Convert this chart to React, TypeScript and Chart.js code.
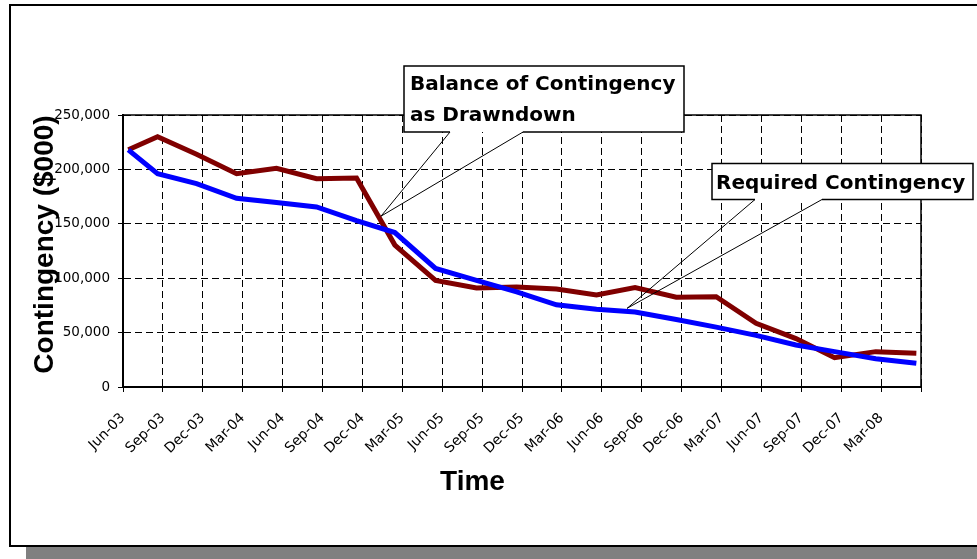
import React, { useEffect, useRef } from 'react';
import { Chart, registerables } from 'chart.js';

Chart.register(...registerables);

// Quarter tick labels along the time axis (one every 3 months from Jun-03)
const tickLabels = [
  'Jun-03', 'Sep-03', 'Dec-03', 'Mar-04', 'Jun-04', 'Sep-04', 'Dec-04',
  'Mar-05', 'Jun-05', 'Sep-05', 'Dec-05', 'Mar-06', 'Jun-06', 'Sep-06',
  'Dec-06', 'Mar-07', 'Jun-07', 'Sep-07', 'Dec-07', 'Mar-08',
];

// Observation times, in months after Jun-03
const monthOffsets = [
  0.4, 2.6, 5.53, 8.54, 11.54, 14.55, 17.56, 20.44, 23.5, 26.58, 29.6,
  32.59, 35.6, 38.5, 41.6, 44.6, 47.6, 50.6, 53.5, 56.6, 59.65,
];

// Required Contingency ($000) - blue
const requiredContingency = [
  218000, 196000, 187000, 173500, 169500, 165500, 153000, 142000, 109000,
  98000, 87500, 75500, 71500, 69000, 62000, 55000, 47500, 38600, 32500,
  26000, 21800,
];

// Balance of Contingency as Drawndown ($000) - dark red
const balanceContingency = [
  218000, 230000, 214000, 196000, 201000, 191500, 192000, 130500, 98000,
  91000, 91800, 90000, 84600, 91500, 82500, 83000, 58500, 44500, 27000,
  32500, 31000,
];

const yMax = 250000;
const yStep = 50000;
const monthsPerTick = 3;
const xMax = 60;

// Callout annotations: tip anchored in data space
const callouts = [
  {
    lines: ['Balance of Contingency', 'as Drawndown'],
    tipMonth: 19.4,
    tipValue: 157000,
    box: { x: 404, y: 66, w: 280, h: 66, baseL: 450, baseR: 523, tx: 410, ty: 90, lh: 31 },
  },
  {
    lines: ['Required Contingency'],
    tipMonth: 37.9,
    tipValue: 72300,
    box: { x: 712, y: 163.5, w: 261, h: 36, baseL: 755, baseR: 822, tx: 716, ty: 188.5, lh: 31 },
  },
];

const decorPlugin = {
  id: 'decor',
  beforeDraw(chart: any) {
    const { ctx, width } = chart;
    ctx.save();
    ctx.fillStyle = '#ffffff';
    ctx.fillRect(0, 0, chart.width, chart.height);
    ctx.fillStyle = '#808080';
    ctx.fillRect(26, 547, width - 26, 12);
    ctx.strokeStyle = '#000';
    ctx.lineWidth = 2;
    ctx.beginPath();
    ctx.moveTo(width + 5, 5);
    ctx.lineTo(10, 5);
    ctx.lineTo(10, 546);
    ctx.lineTo(width + 5, 546);
    ctx.stroke();
    ctx.restore();
  },
  afterDraw(chart: any) {
    const { ctx, chartArea: ca, scales } = chart;
    ctx.save();
    ctx.strokeStyle = '#000';
    ctx.lineWidth = 1.5;
    ctx.strokeRect(ca.left, ca.top, ca.right - ca.left, ca.bottom - ca.top);

    // axis titles
    ctx.fillStyle = '#000';
    ctx.font = 'bold 28px "Liberation Sans", Arial, sans-serif';
    ctx.textAlign = 'center';
    ctx.textBaseline = 'alphabetic';
    ctx.fillText('Time', 472.5, 490);
    ctx.save();
    ctx.translate(53, 244.5);
    ctx.rotate(-Math.PI / 2);
    ctx.fillText('Contingency ($000)', 0, 0);
    ctx.restore();

    // callouts
    for (const c of callouts) {
      const b = c.box;
      const tx = scales.x.getPixelForValue(c.tipMonth);
      const ty = scales.y.getPixelForValue(c.tipValue);
      const bottom = b.y + b.h;
      ctx.fillStyle = '#fff';
      ctx.fillRect(b.x, b.y, b.w, b.h);
      ctx.strokeStyle = '#000';
      ctx.lineWidth = 1.5;
      ctx.beginPath();
      ctx.moveTo(b.baseL, bottom);
      ctx.lineTo(b.x, bottom);
      ctx.lineTo(b.x, b.y);
      ctx.lineTo(b.x + b.w, b.y);
      ctx.lineTo(b.x + b.w, bottom);
      ctx.lineTo(b.baseR, bottom);
      ctx.stroke();
      ctx.lineWidth = 1;
      ctx.beginPath();
      ctx.moveTo(b.baseL, bottom);
      ctx.lineTo(tx, ty);
      ctx.lineTo(b.baseR, bottom);
      ctx.stroke();
      ctx.fillStyle = '#000';
      ctx.font = 'bold 20px "DejaVu Sans", sans-serif';
      ctx.textAlign = 'left';
      ctx.textBaseline = 'alphabetic';
      c.lines.forEach((ln, i) => ctx.fillText(ln, b.tx, b.ty + i * b.lh));
    }
    ctx.restore();
  },
};

export default function App() {
  const ref = useRef<HTMLCanvasElement | null>(null);

  useEffect(() => {
    if (!ref.current) return;
    const blue = monthOffsets.map((m, i) => ({ x: m, y: requiredContingency[i] }));
    const red = monthOffsets.map((m, i) => ({ x: m, y: balanceContingency[i] }));
    const chart = new Chart(ref.current, {
      type: 'line',
      data: {
        datasets: [
          {
            label: 'Required Contingency',
            data: blue,
            borderColor: '#0000ff',
            borderWidth: 5,
            pointRadius: 0,
            tension: 0,
            borderJoinStyle: 'miter',
            order: 0,
          },
          {
            label: 'Balance of Contingency as Drawndown',
            data: red,
            borderColor: '#800000',
            borderWidth: 5,
            pointRadius: 0,
            tension: 0,
            borderJoinStyle: 'miter',
            order: 1,
          },
        ],
      },
      options: {
        animation: false,
        responsive: true,
        maintainAspectRatio: false,
        layout: { padding: { top: 115, right: 56, left: 0, bottom: 0 } },
        plugins: { legend: { display: false }, tooltip: { enabled: false } },
        scales: {
          x: {
            type: 'linear',
            min: 0,
            max: xMax,
            afterFit: (s: any) => { s.height = 172; },
            afterBuildTicks: (s: any) => {
              const t = [];
              for (let i = 0; i <= xMax / monthsPerTick; i++) t.push({ value: i * monthsPerTick });
              s.ticks = t;
            },
            ticks: {
              autoSkip: false,
              maxRotation: 45,
              minRotation: 45,
              padding: 18,
              color: '#000',
              font: { family: '"DejaVu Sans", sans-serif', size: 14 },
              callback: (v: any) => tickLabels[Math.round(Number(v) / monthsPerTick)] ?? '',
            },
            grid: { color: '#000', lineWidth: 1, tickLength: 5, tickColor: '#000' },
            border: { color: '#000', width: 2, dash: [7, 4] },
          },
          y: {
            min: 0,
            max: yMax,
            afterFit: (s: any) => { s.width = 123; },
            ticks: {
              stepSize: yStep,
              padding: 8,
              color: '#000',
              font: { family: '"DejaVu Sans", sans-serif', size: 13.5 },
              callback: (v: any) => Number(v).toLocaleString('en-US'),
            },
            grid: { color: '#000', lineWidth: 1, tickLength: 5, tickColor: '#000' },
            border: { color: '#000', width: 2, dash: [7, 4] },
          },
        },
      },
      plugins: [decorPlugin],
    });
    return () => chart.destroy();
  }, []);

  return (
    <div style={{ position: 'fixed', left: 0, top: 0, width: 977, height: 559, background: '#fff' }}>
      <canvas ref={ref} />
    </div>
  );
}
